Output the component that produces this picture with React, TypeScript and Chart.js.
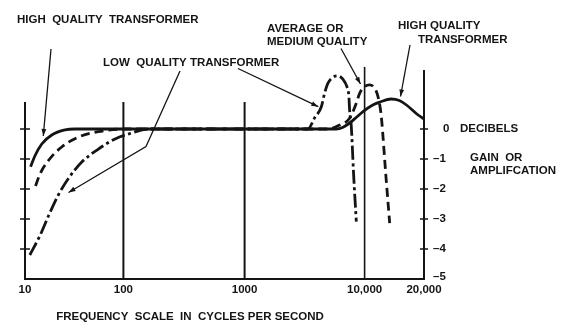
import React, { useEffect, useRef } from 'react';
import { Chart, registerables } from 'chart.js';

Chart.register(...registerables);

// ---- axis definitions ----
const FREQ_TICKS = [10, 100, 1000, 10000, 20000];
const FREQ_LABELS = ['10', '100', '1000', '10,000', '20,000'];
// hand-drawn frequency scale: position of each labelled frequency along the axis (decade units)
const AXIS_POS = [0, 0.82, 1.83, 2.83, 3.325];
const DB_TICKS = [0, -1, -2, -3, -4, -5];
const DB_LABELS = ['0', '\u20131', '\u20132', '\u20133', '\u20134', '\u20135'];
const GRID_TOP_DB = [0.9, 0.9, 0.9, 2.07, 1.97];

// ---- series (frequency in c/s, response in dB) ----
const HIGH_FREQ = [11.4, 12.6, 14.8, 18.7, 25.5, 32, 5800, 6550, 7500, 8600, 9700, 11000, 12000, 13600, 15000, 16300, 18400, 20000];
const HIGH_DB = [-1.26, -0.9, -0.5, -0.2, -0.03, 0, 0, 0.05, 0.2, 0.4, 0.58, 0.8, 0.9, 1.0, 0.95, 0.8, 0.5, 0.33];

const AVG_FREQ = [12.8, 14.2, 17.3, 23.6, 34.8, 55.7, 103, 4940, 6190, 7500, 8530, 9090, 10000, 10600, 11250, 11690, 12000, 12200, 12800, 13400];
const AVG_DB = [-1.9, -1.5, -1.05, -0.6, -0.27, -0.09, 0, 0, 0.13, 0.36, 0.86, 1.19, 1.41, 1.47, 1.36, 1.08, 0.7, 0.3, -1.5, -3.14];

const LOW_FREQ = [11.2, 14.2, 17.3, 21.8, 27.6, 37.8, 55.7, 82.3, 113.5, 160, 3370, 3830, 4360, 4640, 4940, 5440, 5990, 6590, 7120, 7400, 7500, 7750, 8090, 8530];
const LOW_DB = [-4.2, -3.55, -2.9, -2.2, -1.65, -1.1, -0.67, -0.33, -0.15, 0, 0, 0.37, 0.74, 1.19, 1.52, 1.72, 1.77, 1.66, 1.41, 1.08, 0.63, 0.08, -1.48, -3.09];

function warp(f: number): number {
  for (let i = 0; i < FREQ_TICKS.length - 1; i++) {
    const a = FREQ_TICKS[i];
    const b = FREQ_TICKS[i + 1];
    if (f <= b || i === FREQ_TICKS.length - 2) {
      const t = Math.log(f / a) / Math.log(b / a);
      return AXIS_POS[i] + t * (AXIS_POS[i + 1] - AXIS_POS[i]);
    }
  }
  return 0;
}

const toPoints = (fs: number[], ds: number[]) => fs.map((f, i) => ({ x: warp(f), y: ds[i] }));

const INK = '#141414';
const FONT = 'bold 11.5px "Liberation Sans", Arial, sans-serif';

function arrow(ctx: CanvasRenderingContext2D, pts: number[][]) {
  ctx.beginPath();
  ctx.moveTo(pts[0][0], pts[0][1]);
  for (let i = 1; i < pts.length; i++) ctx.lineTo(pts[i][0], pts[i][1]);
  ctx.stroke();
  const [x1, y1] = pts[pts.length - 2];
  const [x2, y2] = pts[pts.length - 1];
  const ang = Math.atan2(y2 - y1, x2 - x1);
  const len = 7;
  const hw = 2.4;
  const bx = x2 - len * Math.cos(ang);
  const by = y2 - len * Math.sin(ang);
  ctx.beginPath();
  ctx.moveTo(x2, y2);
  ctx.lineTo(bx + hw * Math.sin(ang), by - hw * Math.cos(ang));
  ctx.lineTo(bx - hw * Math.sin(ang), by + hw * Math.cos(ang));
  ctx.closePath();
  ctx.fill();
}

const drawingPlugin = {
  id: 'vintageDrawing',
  beforeDatasetsDraw(chart: any) {
    const { ctx, scales } = chart;
    const x = scales.x;
    const y = scales.y;
    ctx.save();
    ctx.strokeStyle = INK;
    ctx.lineCap = 'butt';
    const yBottom = y.getPixelForValue(-5);
    FREQ_TICKS.forEach((f, i) => {
      const px = x.getPixelForValue(warp(f));
      ctx.lineWidth = i === 3 ? 1.6 : 2;
      ctx.beginPath();
      ctx.moveTo(px, y.getPixelForValue(GRID_TOP_DB[i]));
      ctx.lineTo(px, yBottom + 1);
      ctx.stroke();
    });
    const xl = x.getPixelForValue(warp(FREQ_TICKS[0]));
    const xr = x.getPixelForValue(warp(FREQ_TICKS[FREQ_TICKS.length - 1]));
    ctx.lineWidth = 2;
    ctx.beginPath();
    ctx.moveTo(xl - 1, yBottom);
    ctx.lineTo(xr + 1, yBottom);
    ctx.stroke();
    // tick marks
    ctx.lineWidth = 1.6;
    DB_TICKS.slice(0, 5).forEach((d) => {
      const py = y.getPixelForValue(d);
      ctx.beginPath();
      ctx.moveTo(xl - 5, py);
      ctx.lineTo(xl + 5, py);
      ctx.moveTo(xr - 4, py);
      ctx.lineTo(xr + 4, py);
      ctx.stroke();
    });
    ctx.restore();
  },
  afterDraw(chart: any) {
    const { ctx, scales } = chart;
    const x = scales.x;
    const y = scales.y;
    ctx.save();
    ctx.fillStyle = INK;
    ctx.strokeStyle = INK;
    ctx.font = FONT;
    ctx.textBaseline = 'middle';
    // x tick labels
    ctx.textAlign = 'center';
    FREQ_TICKS.forEach((f, i) => {
      ctx.fillText(FREQ_LABELS[i], x.getPixelForValue(warp(f)), 289.5);
    });
    // y tick labels (right axis)
    const xr = x.getPixelForValue(warp(20000));
    ctx.textAlign = 'left';
    DB_TICKS.forEach((d, i) => {
      const py = y.getPixelForValue(d) - (d === -5 ? 2 : 0);
      ctx.fillText(DB_LABELS[i], d === 0 ? xr + 19 : xr + 9, py);
    });
    // texts
    ctx.fillText('DECIBELS', 460, 128.5);
    ctx.fillText('GAIN  OR', 470, 158);
    ctx.fillText('AMPLIFCATION', 470, 171);
    ctx.fillText('HIGH  QUALITY  TRANSFORMER', 17, 20);
    ctx.fillText('LOW  QUALITY TRANSFORMER', 103, 63);
    ctx.fillText('AVERAGE OR', 267, 29);
    ctx.fillText('MEDIUM QUALITY', 267, 42);
    ctx.fillText('HIGH QUALITY', 398, 26);
    ctx.fillText('TRANSFORMER', 418, 39.5);
    ctx.textAlign = 'center';
    ctx.fillText('FREQUENCY  SCALE  IN  CYCLES PER SECOND', 190, 317);
    // arrows
    ctx.lineWidth = 1.3;
    arrow(ctx, [[51, 49], [43.3, 136]]);
    arrow(ctx, [[180, 71], [146, 146.5], [68.5, 192.5]]);
    arrow(ctx, [[238, 68.5], [318.3, 106.7]]);
    arrow(ctx, [[341, 48.5], [360.5, 84]]);
    arrow(ctx, [[410, 45], [400.5, 96.5]]);
    ctx.restore();
  },
};

export default function App() {
  const ref = useRef<HTMLCanvasElement>(null);
  useEffect(() => {
    if (!ref.current) return;
    const common = {
      borderColor: INK,
      borderWidth: 2.8,
      pointRadius: 0,
      fill: false,
      cubicInterpolationMode: 'monotone' as const,
      borderCapStyle: 'butt' as const,
    };
    const chart = new Chart(ref.current, {
      type: 'line',
      data: {
        datasets: [
          { ...common, label: 'Low quality transformer', data: toPoints(LOW_FREQ, LOW_DB), borderDash: [14, 3.5, 3, 3.5] },
          { ...common, label: 'Average or medium quality', data: toPoints(AVG_FREQ, AVG_DB), borderDash: [9, 5] },
          { ...common, label: 'High quality transformer', data: toPoints(HIGH_FREQ, HIGH_DB) },
        ],
      },
      options: {
        responsive: false,
        animation: false,
        devicePixelRatio: 1,
        layout: { padding: { left: 25, right: 140, top: 66, bottom: 49 } },
        plugins: { legend: { display: false }, tooltip: { enabled: false }, title: { display: false } },
        scales: {
          x: { type: 'linear', display: false, min: AXIS_POS[0], max: AXIS_POS[AXIS_POS.length - 1] },
          y: { type: 'linear', display: false, min: -5, max: 2.1 },
        },
      },
      plugins: [drawingPlugin],
    });
    return () => chart.destroy();
  }, []);
  return (
    <div style={{ position: 'fixed', left: 0, top: 0, width: 564, height: 328, background: '#fff' }}>
      <canvas ref={ref} width={564} height={328} style={{ display: 'block', width: 564, height: 328 }} />
    </div>
  );
}
